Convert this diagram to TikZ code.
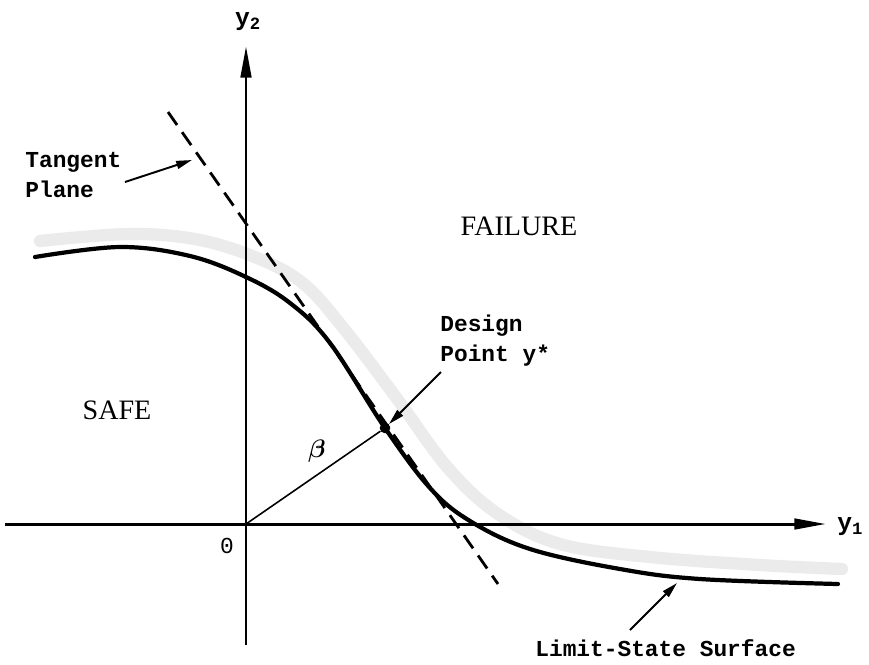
\documentclass[tikz,border=0pt]{standalone}
\usepackage{fontspec}
\usepackage{amsmath}
\setmainfont{Liberation Serif}
\setmonofont{Liberation Mono}
\usetikzlibrary{arrows.meta}
\newcommand{\labelfont}{\ttfamily\bfseries\fontsize{13}{17}\selectfont}
\newcommand{\zonefont}{\rmfamily\fontsize{16}{18}\selectfont}

\begin{document}
\begin{tikzpicture}[x=0.02cm, y=-0.02cm,
    axis/.style={line width=1.7pt, -{Triangle[length=18pt, width=6pt]}},
    pointer/.style={line width=1.1pt, -{Triangle[length=9pt, width=4.5pt]}},
    tag/.style={font=\labelfont, align=left, inner sep=0pt},
    zone/.style={font=\zonefont, inner sep=0pt},
    dot/.style={circle, fill=black, inner sep=0pt, minimum size=6pt}]
  \useasboundingbox (0,0) rectangle (869,664);
  % shaded band on the failure side
  \draw[gray!16, line width=7pt, line cap=round]
    plot[smooth, tension=0.6] coordinates {(40,241) (130,234) (200,240) (262,260) (305,285)
      (345,330) (398,400) (448,468) (498,514) (560,544) (650,557) (760,565) (842,569)};
  % axes
  \coordinate (O) at (246,524);
  \coordinate (xl) at (5,524);
  \coordinate (xr) at (826,524);
  \coordinate (yb) at (246,645);
  \coordinate (yt) at (246,46);
  \draw[axis] (xl) -- (xr);
  \draw[axis] (yb) -- (yt);
  \node[font=\ttfamily\bfseries\fontsize{14}{16}\selectfont, anchor=west, inner sep=0pt] (y1) at (837,527) {y\textsubscript{1}};
  \node[font=\ttfamily\bfseries\fontsize{14}{16}\selectfont, inner sep=0pt] (y2) at (248,22) {y\textsubscript{2}};
  \node[font=\ttfamily\fontsize{13}{15}\selectfont] (zero) at (227,546) {0};
  % limit-state surface
  \draw[line width=2.4pt, line cap=round]
    plot[smooth, tension=0.6] coordinates {(35,257) (120,247) (190,256) (246,277) (290,303)
      (330,343) (385,428) (430,488) (470,521) (530,549) (620,569) (700,579) (838,584)};
  % tangent plane
  \coordinate (tA) at (168,112);
  \coordinate (tB) at (498,584);
  \draw[line width=1.6pt, dashed, dash pattern=on 9pt off 5pt] (tA) -- (tB);
  % design point
  \node[dot] (ystar) at (385,428) {};
  \draw[line width=0.9pt] (O) -- (ystar);
  \node[font=\fontsize{14}{16}\selectfont] (beta) at (317,451) {$\boldsymbol{\beta}$};
  % labels
  \node[zone] (safe) at (117,410) {SAFE};
  \node[zone] (fail) at (519,226) {FAILURE};
  \node[tag, anchor=north west] (tp) at (25,152) {Tangent\\Plane};
  \coordinate (tpA) at (125,182);
  \coordinate (tpB) at (192,160);
  \draw[pointer] (tpA) -- (tpB);
  \node[tag, anchor=north west] (dp) at (440,315) {Design\\Point y*};
  \coordinate (dpA) at (441,372);
  \draw[pointer] (dpA) -- ([shift={(8,-7)}]ystar);
  \node[tag, anchor=west] (ls) at (535,648) {Limit-State Surface};
  \coordinate (lsA) at (630,630);
  \coordinate (lsB) at (677,583);
  \draw[pointer] (lsA) -- (lsB);
\end{tikzpicture}
\end{document}
